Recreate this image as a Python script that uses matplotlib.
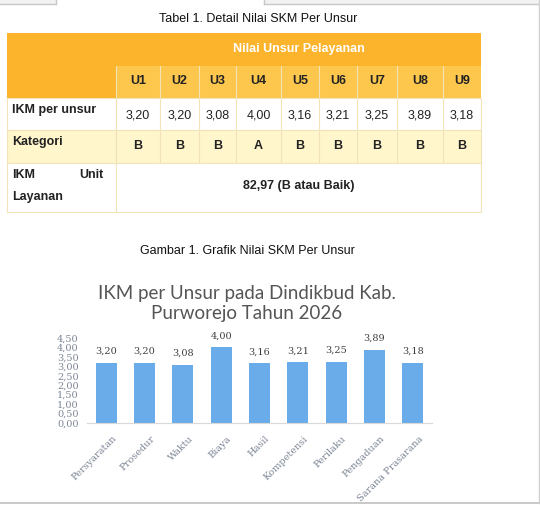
import numpy as np
import matplotlib
matplotlib.use('Agg')
import matplotlib.pyplot as plt
import matplotlib.transforms as mtrans
from matplotlib.patches import Rectangle

# data
unsur_codes = ['U1', 'U2', 'U3', 'U4', 'U5', 'U6', 'U7', 'U8', 'U9']
unsur_names = ['Persyaratan', 'Prosedur', 'Waktu', 'Biaya', 'Hasil',
               'Kompetensi', 'Perilaku', 'Pengaduan', 'Sarana Prasarana']
ikm_values = [3.20, 3.20, 3.08, 4.00, 3.16, 3.21, 3.25, 3.89, 3.18]
kategori = ['B', 'B', 'B', 'A', 'B', 'B', 'B', 'B', 'B']
ikm_unit = '82,97 (B atau Baik)'
y_ticks = [0, 0.5, 1.0, 1.5, 2.0, 2.5, 3.0, 3.5, 4.0, 4.5]


def fmt(v):
    """Indonesian decimal comma."""
    return '{:.2f}'.format(v).replace('.', ',')


W, H = 540, 505
fig = plt.figure(figsize=(W / 100, H / 100), dpi=100)
bg = fig.add_axes([0, 0, 1, 1])
bg.set_xlim(0, W)
bg.set_ylim(H, 0)
bg.axis('off')

sans = 'Liberation Sans'
serif = 'DejaVu Serif'
fs = 9

# window frame bits
bg.add_patch(Rectangle((0, 0), 56, 4, color='#f2f2f2', lw=0))
bg.add_patch(Rectangle((264, 0), W - 264, 4, color='#f2f2f2', lw=0))
bg.plot([0, 56], [4, 4], color='#c8c8c8', lw=1)
bg.plot([264, W], [4, 4], color='#c8c8c8', lw=1)
bg.plot([56, 56], [0, 4], color='#c8c8c8', lw=1)
bg.plot([264, 264], [0, 4], color='#c8c8c8', lw=1)
bg.plot([0, W], [503, 503], color='#c0c0c0', lw=1.2)
bg.plot([538.5, 538.5], [0, 503], color='#d0d0d0', lw=1)

# ---- table ----
bg.text(258, 19, 'Tabel 1. Detail Nilai SKM Per Unsur', family=sans,
        fontsize=fs, ha='center', va='center', color='#111111')

col_edges = [7, 116, 160, 199, 236, 281, 319, 357, 397, 443, 481]
row_edges = [33, 66, 98, 130, 163, 212]
orange = '#fbb42b'
orange2 = '#fdc74d'
pale = '#fff6cc'
grid = '#f3e3b8'

x0, x1 = col_edges[0], col_edges[-1]
bg.add_patch(Rectangle((x0, row_edges[0]), x1 - x0, row_edges[1] - row_edges[0],
                       color=orange, lw=0))
bg.add_patch(Rectangle((col_edges[1], row_edges[1]), x1 - col_edges[1],
                       row_edges[2] - row_edges[1], color=orange2, lw=0))
bg.add_patch(Rectangle((x0, row_edges[1]), col_edges[1] - x0,
                       row_edges[2] - row_edges[1], color=orange, lw=0))
bg.add_patch(Rectangle((x0, row_edges[3]), x1 - x0, row_edges[4] - row_edges[3],
                       color=pale, lw=0))
# grid lines
for y in row_edges[2:]:
    bg.plot([x0, x1], [y, y], color=grid, lw=0.8)
for x in col_edges[1:-1]:
    bg.plot([x, x], [row_edges[1], row_edges[4]], color=grid, lw=0.8)
bg.plot([col_edges[1]] * 2, [row_edges[2], row_edges[5]], color=grid, lw=0.8)
bg.plot([x0, x0], [row_edges[2], row_edges[5]], color=grid, lw=0.8)
bg.plot([x1, x1], [row_edges[2], row_edges[5]], color=grid, lw=0.8)

bg.text((col_edges[1] + x1) / 2, 49, 'Nilai Unsur Pelayanan', family=sans,
        fontsize=fs, weight='bold', color='white', ha='center', va='center')
for i, code in enumerate(unsur_codes):
    cx = (col_edges[i + 1] + col_edges[i + 2]) / 2
    bg.text(cx, 81, code, family=sans, fontsize=fs, weight='bold',
            color='#222222', ha='center', va='center')
    bg.text(cx, 115, fmt(ikm_values[i]), family=sans, fontsize=fs,
            color='#222222', ha='center', va='center')
    bg.text(cx, 146, kategori[i], family=sans, fontsize=fs, weight='bold',
            color='#222222', ha='center', va='center')

bg.text(12, 110, 'IKM per unsur', family=sans, fontsize=fs, weight='bold',
        color='#222222', va='center')
bg.text(12, 142, 'Kategori', family=sans, fontsize=fs, weight='bold',
        color='#222222', va='center')
bg.text(12, 175, 'IKM', family=sans, fontsize=fs, weight='bold',
        color='#222222', va='center')
bg.text(103, 175, 'Unit', family=sans, fontsize=fs, weight='bold',
        color='#222222', va='center', ha='right')
bg.text(12, 197, 'Layanan', family=sans, fontsize=fs, weight='bold',
        color='#222222', va='center')
bg.text((col_edges[1] + x1) / 2, 186, ikm_unit, family=sans, fontsize=fs,
        weight='bold', color='#222222', ha='center', va='center')

# ---- chart ----
bg.text(247, 251, 'Gambar 1. Grafik Nilai SKM Per Unsur', family=sans,
        fontsize=fs, ha='center', va='center', color='#111111')
bg.text(247, 293, 'IKM per Unsur pada Dindikbud Kab.', family='Lato',
        fontsize=13.5, ha='center', va='center', color='#555555')
bg.text(247, 314, 'Purworejo Tahun 2026', family='Lato',
        fontsize=13.5, ha='center', va='center', color='#555555')

ax = fig.add_axes([87 / W, 1 - 423 / H, (432 - 87) / W, (423 - 338) / H])
x = np.arange(len(ikm_values))
bars = ax.bar(x, ikm_values, width=0.55, color='#6aacea')
ax.bar_label(bars, labels=[fmt(v) for v in ikm_values], padding=5,
             fontsize=7, family=serif, color='#404040')
ax.set_xlim(-0.5, len(ikm_values) - 0.5)
ax.set_ylim(0, 4.5)
ax.set_yticks(y_ticks)
ax.set_yticklabels([fmt(v) for v in y_ticks], family=serif, fontsize=7,
                   color='#7d8696')
ax.set_xticks(x)
ax.set_xticklabels(unsur_names, rotation=45, ha='right',
                   rotation_mode='anchor', family=serif, fontsize=7,
                   color='#7d8696')
ax.tick_params(axis='y', length=0, pad=6)
ax.tick_params(axis='x', length=0, pad=8)
shift = mtrans.ScaledTranslation(4 / 72, 0, fig.dpi_scale_trans)
for lab in ax.get_xticklabels():
    lab.set_transform(lab.get_transform() + shift)
for s in ['top', 'right', 'left']:
    ax.spines[s].set_visible(False)
ax.spines['bottom'].set_color('#d9d9d9')
ax.patch.set_alpha(0)

fig.savefig('out.png', dpi=100)
